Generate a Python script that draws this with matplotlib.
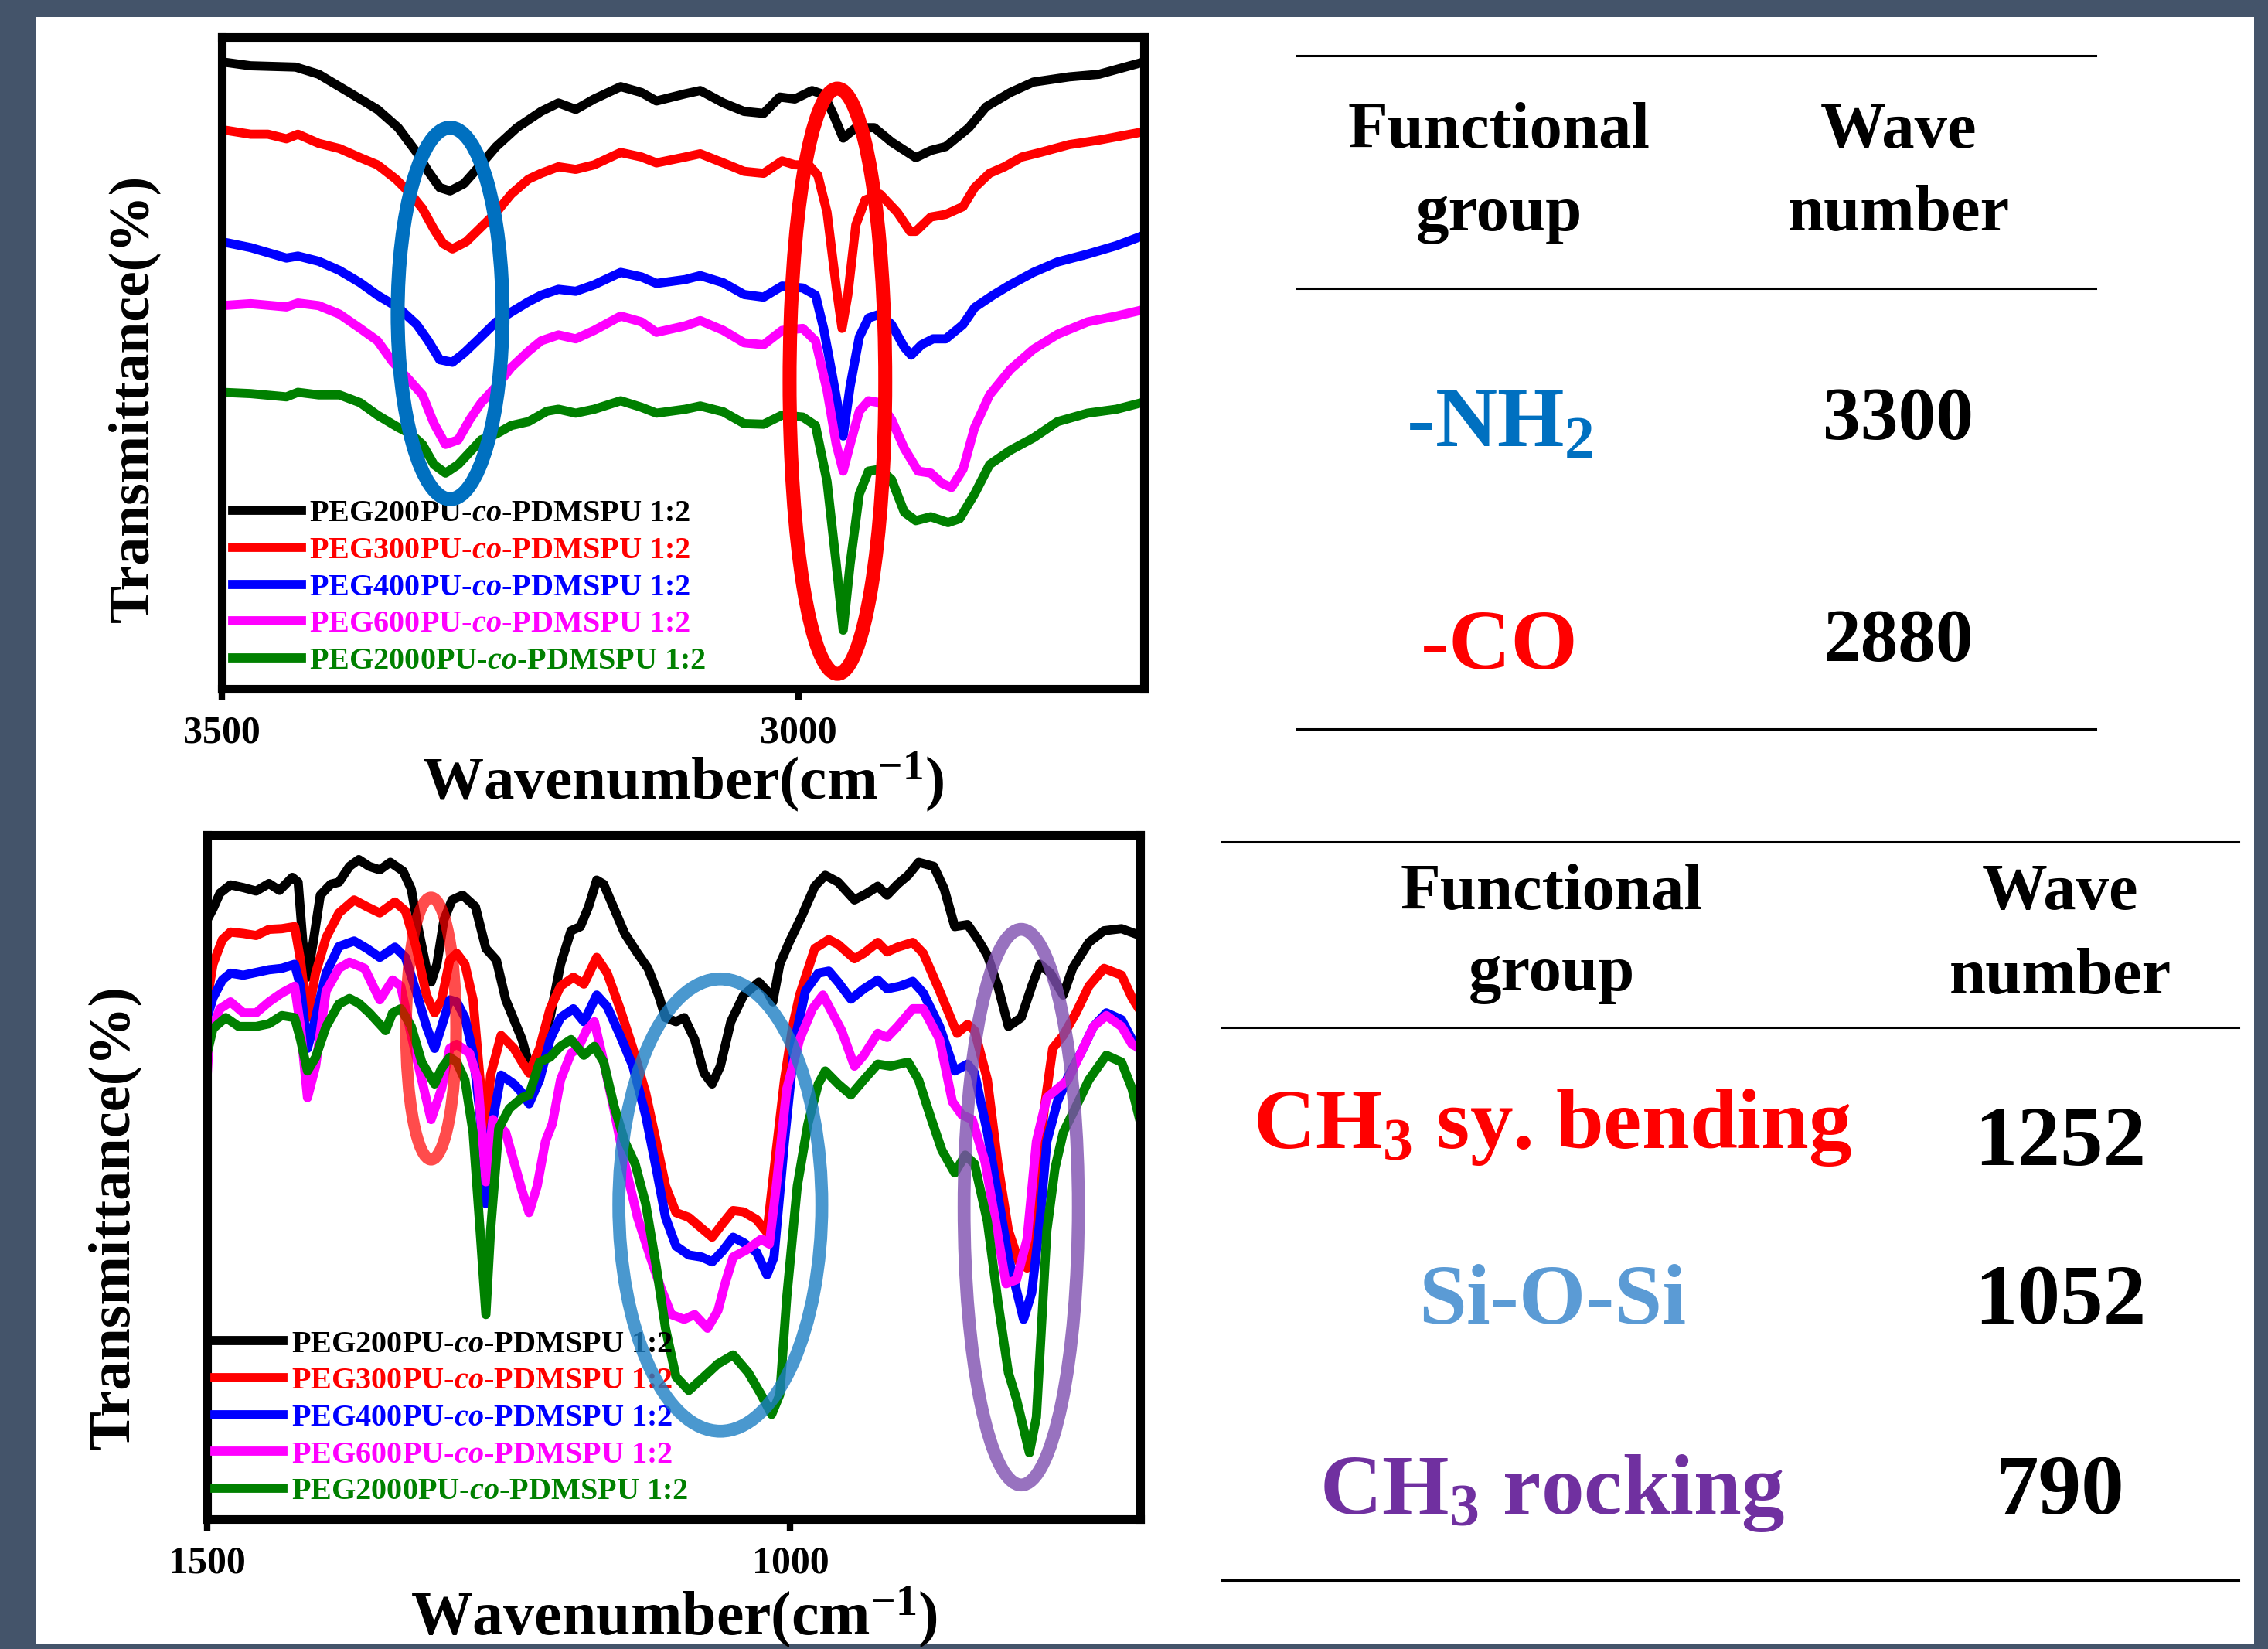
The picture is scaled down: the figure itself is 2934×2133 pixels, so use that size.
import numpy as np
import matplotlib.pyplot as plt
from matplotlib.patches import Ellipse, Rectangle
from matplotlib.lines import Line2D

plt.rcParams['font.family'] = 'Liberation Serif'
plt.rcParams['font.weight'] = 'bold'
plt.rcParams['mathtext.fontset'] = 'custom'
plt.rcParams['mathtext.rm'] = 'Liberation Serif:bold'
plt.rcParams['mathtext.it'] = 'Liberation Serif:italic:bold'
plt.rcParams['mathtext.bf'] = 'Liberation Serif:bold'

# ---- data: (wavenumber cm-1, transmittance a.u.) ----
labels = ['PEG200PU-$\\mathit{co}$-PDMSPU 1:2', 'PEG300PU-$\\mathit{co}$-PDMSPU 1:2',
          'PEG400PU-$\\mathit{co}$-PDMSPU 1:2', 'PEG600PU-$\\mathit{co}$-PDMSPU 1:2',
          'PEG2000PU-$\\mathit{co}$-PDMSPU 1:2']
colors = ['black', '#FF0000', '#0000FF', '#FF00FF', '#008000']

top_black = [(3500, 96.2), (3475, 95.6), (3436, 95.4), (3416, 94.3), (3398, 92.4), (3380, 90.5),
             (3365, 88.9), (3347, 86.1), (3331, 82.3), (3321, 79.4), (3311, 76.9), (3302, 76.4),
             (3290, 77.5), (3277, 80.1), (3262, 83.2), (3244, 86.1), (3223, 88.6), (3208, 89.9),
             (3193, 88.9), (3177, 90.5), (3154, 92.4), (3136, 91.5), (3123, 90.2), (3098, 91.3),
             (3085, 91.8), (3065, 89.9), (3047, 88.6), (3030, 88.3), (3016, 90.8), (3003, 90.5),
             (2988, 91.8), (2978, 91.2), (2970, 88.3), (2961, 84.5), (2950, 86.1), (2934, 86.1),
             (2919, 83.9), (2898, 81.5), (2885, 82.6), (2872, 83.2), (2852, 86.1), (2837, 89.3),
             (2816, 91.5), (2796, 93.1), (2765, 93.9), (2739, 94.3), (2700, 96.2)]
top_red = [(3500, 85.8), (3475, 85.1), (3460, 85.1), (3444, 84.4), (3434, 85.1), (3416, 83.7),
           (3398, 82.9), (3380, 81.5), (3365, 80.4), (3349, 78.2), (3336, 75.9), (3326, 73.7),
           (3316, 70.5), (3308, 68.3), (3300, 67.5), (3288, 68.6), (3277, 70.5), (3262, 73.1),
           (3249, 75.9), (3234, 78.2), (3223, 79.1), (3208, 80.1), (3193, 79.7), (3177, 80.4),
           (3154, 82.3), (3136, 81.6), (3123, 80.7), (3098, 81.6), (3085, 82.1), (3065, 80.7),
           (3047, 79.4), (3030, 79.1), (3014, 81.0), (3003, 80.4), (2991, 80.4), (2983, 78.8),
           (2975, 73.1), (2967, 61.6), (2962, 55.3), (2957, 60.4), (2950, 71.2), (2942, 75.0),
           (2929, 75.9), (2914, 73.1), (2903, 70.2), (2898, 70.2), (2885, 72.4), (2872, 72.8),
           (2857, 74.0), (2847, 76.9), (2834, 79.1), (2821, 80.1), (2806, 81.6), (2790, 82.3),
           (2765, 83.5), (2739, 84.2), (2700, 85.5)]
top_blue = [(3500, 68.6), (3475, 67.7), (3444, 66.1), (3434, 66.4), (3416, 65.6), (3398, 64.2),
            (3380, 62.3), (3365, 60.4), (3347, 58.5), (3331, 55.9), (3321, 53.4), (3311, 50.5),
            (3300, 50.1), (3290, 51.5), (3277, 53.7), (3262, 56.3), (3249, 57.8), (3234, 59.4),
            (3223, 60.4), (3208, 61.3), (3193, 61.0), (3177, 62.0), (3154, 63.9), (3136, 63.2),
            (3123, 62.2), (3098, 62.8), (3085, 63.4), (3065, 62.3), (3047, 60.5), (3030, 60.1),
            (3014, 61.8), (2996, 61.5), (2985, 60.4), (2978, 55.3), (2970, 47.7), (2961, 38.8),
            (2955, 46.4), (2947, 54.0), (2939, 56.9), (2929, 57.5), (2919, 55.9), (2908, 52.4),
            (2902, 51.2), (2893, 52.8), (2883, 53.7), (2872, 53.7), (2857, 55.9), (2847, 58.5),
            (2831, 60.4), (2816, 62.0), (2796, 63.9), (2775, 65.5), (2749, 66.7), (2724, 68.0),
            (2700, 69.6)]
top_magenta = [(3500, 58.8), (3475, 59.1), (3444, 58.6), (3434, 59.2), (3416, 58.8), (3398, 57.5),
               (3380, 55.3), (3365, 53.4), (3352, 50.2), (3336, 47.1), (3326, 45.1), (3316, 40.7),
               (3306, 37.5), (3295, 38.2), (3285, 41.3), (3275, 43.9), (3262, 46.4), (3249, 49.3),
               (3234, 51.8), (3223, 53.4), (3208, 54.3), (3193, 53.7), (3177, 55.0), (3154, 57.2),
               (3136, 56.3), (3123, 54.7), (3098, 55.7), (3085, 56.5), (3065, 55.0), (3047, 53.1),
               (3030, 52.8), (3014, 55.0), (2996, 55.3), (2985, 53.4), (2975, 45.8), (2967, 37.5),
               (2961, 33.4), (2955, 37.5), (2947, 42.6), (2939, 44.2), (2929, 43.9), (2919, 41.3),
               (2908, 36.9), (2896, 33.4), (2885, 33.1), (2875, 31.5), (2867, 30.9), (2857, 33.7),
               (2847, 40.1), (2834, 45.1), (2816, 49.0), (2796, 52.1), (2775, 54.4), (2749, 56.3),
               (2724, 57.2), (2700, 58.2)]
top_green = [(3500, 45.5), (3475, 45.3), (3444, 44.8), (3434, 45.5), (3416, 45.1), (3398, 45.1),
             (3380, 43.9), (3365, 42.0), (3347, 40.1), (3336, 39.1), (3326, 37.5), (3316, 34.4),
             (3306, 33.1), (3295, 34.4), (3285, 36.3), (3275, 38.2), (3262, 39.1), (3249, 40.4),
             (3234, 41.0), (3218, 42.6), (3208, 42.9), (3193, 42.3), (3177, 42.9), (3154, 44.2),
             (3136, 43.2), (3123, 42.3), (3098, 42.9), (3085, 43.4), (3065, 42.5), (3047, 40.7),
             (3030, 40.6), (3014, 42.0), (2996, 41.7), (2985, 40.4), (2975, 31.8), (2967, 19.1),
             (2961, 9.0), (2955, 19.1), (2947, 29.9), (2939, 33.4), (2929, 33.7), (2919, 32.1),
             (2908, 27.1), (2898, 25.8), (2885, 26.4), (2870, 25.5), (2860, 26.1), (2847, 29.9),
             (2834, 34.4), (2816, 36.6), (2796, 38.5), (2775, 41.0), (2749, 42.3), (2724, 42.9),
             (2700, 44.0)]

bot_black = [(1500, 87.6), (1495, 89.2), (1489, 91.5), (1480, 92.7), (1469, 92.3), (1458, 91.8),
             (1447, 92.9), (1438, 91.9), (1427, 93.8), (1422, 93.1), (1418, 84.4), (1414, 79.2),
             (1409, 84.4), (1403, 91.2), (1394, 92.8), (1387, 93.1), (1378, 95.4), (1370, 96.4),
             (1361, 95.4), (1352, 94.9), (1343, 96.0), (1332, 94.7), (1325, 92.1), (1319, 86.3),
             (1312, 80.5), (1308, 78.5), (1303, 81.1), (1297, 87.6), (1290, 90.5), (1281, 91.2),
             (1270, 89.5), (1261, 83.4), (1252, 81.7), (1244, 75.9), (1230, 70.1), (1222, 65.2),
             (1213, 69.4), (1206, 73.3), (1197, 81.1), (1188, 86.0), (1180, 86.6), (1173, 89.5),
             (1166, 93.4), (1160, 92.8), (1151, 89.2), (1142, 85.6), (1131, 82.7), (1122, 80.5),
             (1113, 76.6), (1107, 73.3), (1098, 72.7), (1091, 73.3), (1082, 70.1), (1074, 65.2),
             (1067, 63.6), (1060, 66.2), (1051, 72.7), (1040, 76.6), (1027, 78.5), (1020, 77.2),
             (1015, 75.6), (1009, 81.1), (1001, 84.3), (990, 88.2), (979, 92.5), (970, 94.1),
             (959, 93.1), (945, 90.5), (934, 91.5), (925, 92.5), (917, 91.2), (908, 92.8),
             (899, 94.1), (890, 96.0), (877, 95.4), (868, 92.1), (859, 86.6), (848, 86.9),
             (839, 84.7), (831, 82.4), (822, 77.9), (813, 72.0), (802, 73.3), (793, 77.9),
             (786, 81.1), (777, 79.8), (766, 76.6), (758, 80.5), (744, 84.3), (731, 86.0),
             (716, 86.3), (700, 85.3)]
bot_red = [(1500, 75.9), (1495, 81.1), (1487, 84.7), (1480, 85.8), (1469, 85.6), (1458, 85.3),
           (1447, 86.2), (1436, 86.3), (1425, 86.6), (1420, 81.7), (1414, 73.3), (1407, 79.8),
           (1398, 85.0), (1387, 88.6), (1374, 90.5), (1363, 89.5), (1352, 88.6), (1339, 90.2),
           (1330, 88.9), (1321, 83.7), (1312, 76.6), (1305, 74.0), (1299, 75.9), (1292, 81.7),
           (1286, 82.7), (1279, 81.1), (1272, 75.9), (1266, 64.2), (1261, 56.5), (1257, 64.9),
           (1248, 70.7), (1237, 68.8), (1230, 66.8), (1224, 65.2), (1215, 68.8), (1206, 74.6),
           (1197, 77.9), (1186, 79.2), (1177, 78.2), (1166, 82.1), (1157, 79.8), (1146, 74.6),
           (1135, 68.8), (1124, 62.3), (1115, 55.2), (1107, 48.7), (1098, 44.8), (1087, 44.1),
           (1076, 42.5), (1067, 41.2), (1058, 43.2), (1049, 45.1), (1040, 44.9), (1029, 43.8),
           (1020, 41.9), (1012, 53.9), (1005, 64.2), (998, 72.0), (992, 76.6), (979, 83.4),
           (967, 84.7), (959, 84.0), (945, 81.9), (937, 82.7), (925, 84.3), (917, 82.9),
           (908, 83.6), (895, 84.3), (886, 82.7), (872, 77.2), (857, 71.0), (848, 72.3),
           (842, 71.4), (831, 64.2), (822, 51.9), (813, 42.2), (804, 37.6), (797, 36.7),
           (791, 45.4), (782, 60.3), (775, 68.8), (766, 70.7), (755, 74.0), (744, 77.9),
           (731, 80.5), (716, 79.5), (707, 76.2), (700, 74.3)]
bot_blue = [(1500, 73.3), (1495, 76.2), (1487, 78.8), (1480, 79.8), (1469, 79.5), (1458, 79.9),
            (1447, 80.3), (1436, 80.5), (1425, 81.1), (1420, 77.9), (1414, 68.8), (1407, 73.3),
            (1398, 79.8), (1387, 83.7), (1374, 84.5), (1363, 83.4), (1352, 82.1), (1339, 83.6),
            (1330, 82.1), (1321, 77.2), (1312, 72.0), (1305, 68.8), (1299, 72.0), (1292, 75.9),
            (1286, 75.6), (1279, 73.3), (1272, 68.1), (1266, 59.1), (1261, 46.1), (1257, 56.5),
            (1248, 64.9), (1237, 63.6), (1230, 62.3), (1224, 60.7), (1215, 64.2), (1206, 70.1),
            (1197, 73.3), (1186, 74.6), (1177, 72.7), (1166, 76.6), (1157, 74.9), (1146, 70.7),
            (1135, 66.2), (1124, 59.0), (1115, 51.3), (1107, 44.1), (1098, 39.9), (1087, 38.6),
            (1076, 38.3), (1067, 37.6), (1058, 39.2), (1049, 41.2), (1040, 40.4), (1029, 39.0),
            (1020, 35.7), (1014, 38.3), (1005, 55.2), (996, 70.1), (987, 77.2), (976, 79.8),
            (967, 80.1), (959, 78.5), (948, 76.0), (937, 77.5), (925, 78.8), (917, 77.5),
            (906, 77.9), (895, 78.6), (886, 76.9), (872, 72.0), (859, 65.5), (848, 66.5),
            (842, 65.2), (831, 56.5), (822, 47.4), (813, 38.3), (800, 29.2), (793, 33.1),
            (786, 43.5), (780, 55.2), (771, 61.0), (762, 64.6), (751, 68.1), (740, 72.0),
            (729, 74.0), (716, 73.0), (707, 70.1), (700, 68.5)]
bot_magenta = [(1500, 64.9), (1498, 70.7), (1489, 74.6), (1480, 75.6), (1469, 74.0), (1458, 74.0),
               (1447, 75.6), (1436, 76.9), (1425, 77.9), (1420, 72.0), (1414, 61.6), (1407, 66.2),
               (1398, 77.2), (1387, 80.5), (1378, 81.4), (1365, 80.5), (1352, 75.9), (1341, 78.8),
               (1334, 77.9), (1325, 70.7), (1316, 64.2), (1308, 58.4), (1299, 62.9), (1292, 68.8),
               (1286, 69.4), (1275, 68.1), (1268, 64.2), (1261, 49.3), (1255, 58.4), (1244, 56.5),
               (1230, 48.0), (1224, 44.8), (1217, 48.7), (1210, 55.2), (1204, 57.8), (1197, 64.2),
               (1188, 68.1), (1182, 68.8), (1175, 71.4), (1168, 72.7), (1160, 66.8), (1151, 59.7),
               (1142, 52.0), (1131, 44.1), (1120, 38.3), (1111, 33.8), (1102, 29.9), (1091, 29.2),
               (1082, 29.9), (1071, 27.9), (1062, 30.5), (1056, 34.4), (1049, 38.3), (1038, 39.3),
               (1025, 40.9), (1018, 40.2), (1012, 48.7), (1003, 62.9), (992, 70.1), (981, 74.6),
               (972, 76.6), (956, 71.4), (945, 66.2), (937, 67.8), (925, 71.0), (917, 70.4),
               (908, 72.0), (895, 74.6), (886, 74.6), (872, 70.1), (861, 61.0), (853, 59.1),
               (844, 58.4), (833, 52.2), (824, 43.5), (815, 34.4), (806, 35.0), (797, 40.9),
               (789, 55.2), (780, 61.6), (771, 62.9), (762, 64.2), (751, 68.1), (740, 72.0),
               (729, 73.6), (716, 72.0), (707, 69.4), (700, 68.8)]
bot_green = [(1500, 68.1), (1495, 71.7), (1484, 73.3), (1473, 72.0), (1458, 72.0), (1447, 72.4),
             (1436, 73.6), (1425, 73.3), (1420, 70.1), (1414, 65.5), (1407, 67.5), (1398, 72.0),
             (1387, 75.3), (1378, 76.1), (1370, 75.4), (1361, 74.0), (1347, 71.4), (1341, 74.0),
             (1334, 74.6), (1325, 72.0), (1316, 66.8), (1305, 63.6), (1299, 65.9), (1292, 67.5),
             (1286, 66.8), (1279, 64.2), (1272, 56.5), (1266, 42.2), (1261, 29.9), (1257, 42.2),
             (1250, 57.1), (1241, 60.0), (1230, 61.6), (1224, 62.0), (1215, 66.8), (1206, 67.5),
             (1197, 69.1), (1188, 70.1), (1177, 67.8), (1168, 69.1), (1160, 66.8), (1151, 60.3),
             (1142, 55.2), (1133, 51.9), (1124, 46.1), (1115, 37.0), (1107, 27.9), (1098, 20.8),
             (1087, 18.8), (1076, 20.5), (1062, 22.7), (1049, 24.0), (1036, 21.4), (1025, 18.2),
             (1016, 15.3), (1009, 18.2), (1003, 32.5), (994, 48.7), (985, 57.7), (976, 63.6),
             (970, 65.5), (959, 63.6), (948, 62.0), (937, 64.2), (925, 66.5), (914, 66.2),
             (899, 66.8), (890, 64.2), (879, 58.4), (870, 53.9), (859, 50.6), (850, 53.2),
             (842, 51.9), (831, 43.5), (822, 31.8), (813, 21.4), (806, 17.5), (795, 9.7),
             (789, 14.9), (780, 42.2), (773, 51.3), (766, 56.5), (755, 60.3), (744, 64.2),
             (729, 67.8), (716, 66.8), (707, 62.9), (700, 58.1)]

top_series = [top_black, top_red, top_blue, top_magenta, top_green]
bot_series = [bot_black, bot_red, bot_blue, bot_magenta, bot_green]

# table contents
top_groups = ['-NH$_2$', '-CO']
top_group_colors = ['#0070C0', '#FF0000']
top_wavenumbers = ['3300', '2880']
bot_groups = ['CH$_3$ sy. bending', 'Si-O-Si', 'CH$_3$ rocking']
bot_group_colors = ['#FF0000', '#5B9BD5', '#7030A0']
bot_wavenumbers = ['1252', '1052', '790']

W, H = 2934, 2133


def fx(x):
    return x / W


def fy(y):
    return 1 - y / H


fig = plt.figure(figsize=(W / 100, H / 100), dpi=100, facecolor='#44546A')
fig.add_artist(Rectangle((fx(47), fy(2126)), (2916 - 47) / W, (2126 - 22) / H,
                         transform=fig.transFigure, facecolor='white', edgecolor='none', zorder=0))


def spectrum(ax, series, xlim, ticks, legend_xy):
    for pts, col, lab in zip(series, colors, labels):
        wn, t = np.array(pts).T
        ax.plot(wn, t, color=col, lw=8.5, label=lab, solid_joinstyle='round', zorder=2)
    ax.set_xlim(*xlim)
    ax.set_ylim(0, 100)
    ax.set_xticks(ticks)
    ax.set_xticklabels([str(t) for t in ticks])
    ax.set_yticks([])
    ax.tick_params(axis='x', direction='out', length=11, width=6, labelsize=36, pad=14)
    for s in ax.spines.values():
        s.set_linewidth(8)
    leg = ax.legend(loc='lower left', bbox_to_anchor=legend_xy, frameon=False, fontsize=29,
                    handlelength=2.2, handletextpad=0.26, labelspacing=0.26, borderpad=0,
                    borderaxespad=0, labelcolor='linecolor')
    leg.set_zorder(2.5)


# ---- top spectrum ----
ax1 = fig.add_axes([fx(287), fy(891), (1480 - 287) / W, (891 - 48) / H])
spectrum(ax1, top_series, (3500, 2700), [3500, 3000], (0.0117, 0.02))
ax1.add_patch(Ellipse((3302, 57.6), 91, 57, fill=False, edgecolor='#0070C0', lw=13, zorder=3))
ax1.add_patch(Ellipse((2966, 47.2), 83, 89.8, fill=False, edgecolor='#FF0000', lw=13, zorder=3))
ax1.text(0.5, -0.142, 'Wavenumber(cm$^{-1}$)', transform=ax1.transAxes, ha='center', va='center',
         fontsize=57)
ax1.text(-0.0956, 0.446, 'Transmittance(%)', transform=ax1.transAxes, rotation=90,
         ha='center', va='center', fontsize=53)

# ---- bottom spectrum ----
ax2 = fig.add_axes([fx(268), fy(1965), (1475 - 268) / W, (1965 - 1080) / H])
spectrum(ax2, bot_series, (1500, 700), [1500, 1000], (0.008, 0.019))
ax2.add_patch(Ellipse((1308, 71.7), 43, 38.3, fill=False, edgecolor='#FF0000', alpha=0.7, lw=11, zorder=3))
ax2.add_patch(Ellipse((1060, 45.9), 174, 66.1, fill=False, edgecolor='#1D7EC3', alpha=0.8, lw=12, zorder=3))
ax2.add_patch(Ellipse((802, 45.6), 98, 81.2, fill=False, edgecolor='#7E4FAF', alpha=0.8, lw=12, zorder=3))
ax2.text(0.5, -0.1435, 'Wavenumber(cm$^{-1}$)', transform=ax2.transAxes, ha='center', va='center',
         fontsize=57.5)
ax2.text(-0.0994, 0.441, 'Transmittance(%)', transform=ax2.transAxes, rotation=90,
         ha='center', va='center', fontsize=55)

# ---- tables ----
for y in [72, 373, 943]:
    fig.add_artist(Line2D([fx(1678), fx(2711)], [fy(y), fy(y)], color='black', lw=2.2))
for y in [1089, 1329, 2044]:
    fig.add_artist(Line2D([fx(1581), fx(2896)], [fy(y), fy(y)], color='black', lw=2.2))

for txt, x, y in [('Functional', 1939, 191), ('group', 1939, 298), ('Wave', 2456, 191), ('number', 2456, 298),
                  ('Functional', 2007, 1176), ('group', 2007, 1281), ('Wave', 2665, 1176), ('number', 2665, 1285)]:
    fig.text(fx(x), fy(y), txt, ha='center', va='baseline', fontsize=61)

for g, c, wv, y in zip(top_groups, top_group_colors, top_wavenumbers, [578, 865]):
    fig.text(fx(1940), fy(y), g, color=c, ha='center', va='baseline', fontsize=80)
    fig.text(fx(2456), fy(y - 10), wv, ha='center', va='baseline', fontsize=70)

for g, c, wv, y, yv in zip(bot_groups, bot_group_colors, bot_wavenumbers, [1485, 1712, 1958], [1507, 1712, 1958]):
    fig.text(fx(2008), fy(y), g, color=c, ha='center', va='baseline', fontsize=80)
    fig.text(fx(2665), fy(yv), wv, ha='center', va='baseline', fontsize=80)

fig.savefig('out.png', dpi=100, facecolor=fig.get_facecolor())
